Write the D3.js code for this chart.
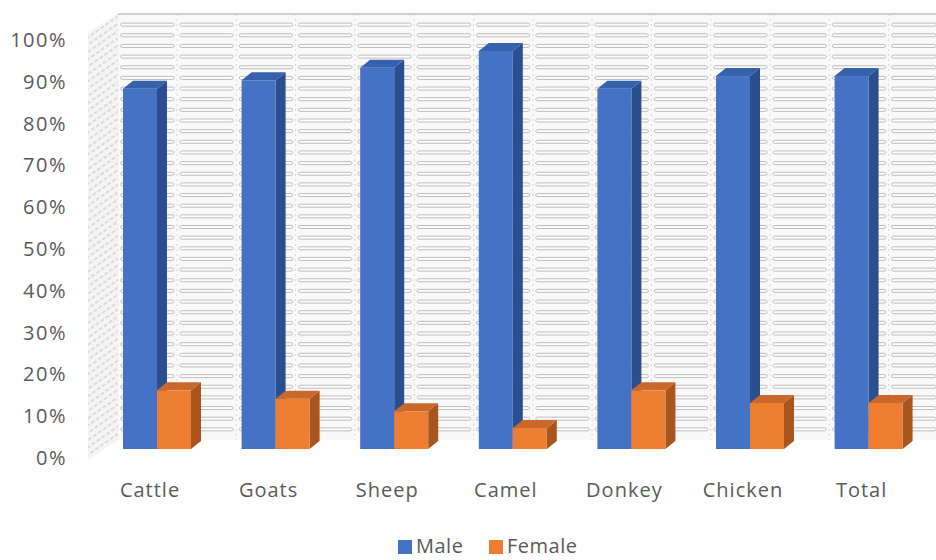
<!DOCTYPE html>
<html>
<head>
<meta charset="utf-8">
<script src="https://cdn.jsdelivr.net/npm/d3@7"></script>
<style>
  html, body { margin: 0; padding: 0; background: #fff; }
  svg { display: block; font-family: "Open Sans", sans-serif; }
</style>
</head>
<body>
<svg id="chart" width="936" height="560"></svg>
<script>
// chart data (shares)
const categories = ["Cattle", "Goats", "Sheep", "Camel", "Donkey", "Chicken", "Total"];
const maleValues = [0.86, 0.88, 0.91, 0.95, 0.86, 0.89, 0.89];
const femaleValues = [0.14, 0.12, 0.09, 0.05, 0.14, 0.11, 0.11];
const seriesNames = ["Male", "Female"];
const yTicks = [0, 0.1, 0.2, 0.3, 0.4, 0.5, 0.6, 0.7, 0.8, 0.9, 1];

const svg = d3.select("#chart");

const x = d3.scaleBand().domain(categories).range([97.7, 927.9]);
const sub = d3.scaleBand().domain(seriesNames).range([25.3, 93.3]);
const yBar = d3.scaleLinear().domain([0, 1]).range([449, 30]);   // front plane
const yWall = d3.scaleLinear().domain([0, 1]).range([440, 14]);  // back wall
const yAxis = d3.scaleLinear().domain([0, 1]).range([458, 40]);  // tick labels

const depthX = 10, depthY = 8;
const wallShift = 20;

// ---- back wall
const wall = svg.append("g");
const wallLeft = x.range()[0] + wallShift;
wall.append("rect")
  .attr("x", wallLeft).attr("y", yWall(1))
  .attr("width", 936 - wallLeft).attr("height", yWall(0) - yWall(1))
  .attr("fill", "#f9f9f9");
wall.append("line")
  .attr("x1", wallLeft).attr("x2", 936)
  .attr("y1", yWall(1)).attr("y2", yWall(1))
  .attr("stroke", "#d0d0d0").attr("stroke-width", 2);

const dividers = [];
for (let k = 0; wallLeft + k * x.bandwidth() / 2 < 940; k++) dividers.push(wallLeft + k * x.bandwidth() / 2);

const gridLevels = d3.range(0.025, 1.0, 0.025);
gridLevels.forEach(v => {
  dividers.forEach(d0 => {
    const x0 = d0 + 3, x1 = Math.min(d0 + x.bandwidth() / 2 - 3, 936);
    if (x1 <= x0) return;
    wall.append("rect")
      .attr("x", x0).attr("y", yWall(v) - 1.5)
      .attr("width", x1 - x0).attr("height", 3)
      .attr("rx", 1.5)
      .attr("fill", "#fdfdfd")
      .attr("stroke", "#bdbdbd").attr("stroke-width", 1);
  });
});
dividers.forEach(d0 => {
  wall.append("line")
    .attr("x1", d0).attr("x2", d0)
    .attr("y1", yWall(1)).attr("y2", yWall(0))
    .attr("stroke", "#d8d8d8").attr("stroke-width", 1).attr("stroke-dasharray", "2,3");
});

// ---- side wall (left), textured strip
const defs = svg.append("defs");
const pat = defs.append("pattern").attr("id", "sideTex")
  .attr("width", 6).attr("height", 6).attr("patternUnits", "userSpaceOnUse")
  .attr("patternTransform", "rotate(-35)");
pat.append("rect").attr("width", 6).attr("height", 6).attr("fill", "#f3f3f3");
pat.append("line").attr("x1", 0).attr("x2", 4).attr("y1", 3).attr("y2", 3)
  .attr("stroke", "#c2c2c2").attr("stroke-width", 1.2);
svg.append("polygon")
  .attr("points", [[88, yWall(1) + 18], [wallLeft, yWall(1)], [wallLeft, yWall(0)], [88, yAxis(0) + 2]].map(p => p.join(",")).join(" "))
  .attr("fill", "url(#sideTex)")
  .attr("opacity", 0.9);

// ---- y axis labels
svg.append("g").selectAll("text")
  .data(yTicks)
  .join("text")
  .attr("x", 67)
  .attr("y", d => yAxis(d))
  .attr("dy", "0.35em")
  .attr("text-anchor", "end")
  .attr("font-size", 20)
  .attr("letter-spacing", 1.5)
  .attr("fill", "#595959")
  .text(d3.format(".0%"));

// ---- 3D bars
const colors = {
  Male: { front: "#4472C4", side: "#2B4F8E", top: "#3561AD" },
  Female: { front: "#ED7D31", side: "#A9561E", top: "#C9682A" }
};

const bars = [];
categories.forEach((c, i) => {
  bars.push({ cat: c, series: "Male", value: maleValues[i] });
  bars.push({ cat: c, series: "Female", value: femaleValues[i] });
});

const pts = arr => arr.map(p => p.join(",")).join(" ");
const barG = svg.append("g").selectAll("g.bar")
  .data(bars)
  .join("g")
  .attr("class", "bar");

barG.each(function(d) {
  const g = d3.select(this);
  const x0 = x(d.cat) + sub(d.series);
  const x1 = x0 + sub.bandwidth();
  const y0 = yBar(d.value);
  const yb = yBar(0);
  const col = colors[d.series];
  g.append("polygon")
    .attr("points", pts([[x1, yb], [x1 + depthX, yb - depthY], [x1 + depthX, y0 - depthY], [x1, y0]]))
    .attr("fill", col.side);
  g.append("polygon")
    .attr("points", pts([[x0, y0], [x0 + depthX, y0 - depthY], [x1 + depthX, y0 - depthY], [x1, y0]]))
    .attr("fill", col.top);
  g.append("rect")
    .attr("x", x0).attr("y", y0)
    .attr("width", sub.bandwidth()).attr("height", yb - y0)
    .attr("fill", col.front);
});

// ---- category labels
svg.append("g").selectAll("text")
  .data(categories)
  .join("text")
  .attr("x", d => x(d) + x.bandwidth() / 2 - 7)
  .attr("y", 490)
  .attr("dy", "0.35em")
  .attr("text-anchor", "middle")
  .attr("font-size", 20)
  .attr("letter-spacing", 1)
  .attr("fill", "#595959")
  .text(d => d);

// ---- legend
const legend = svg.append("g");
const legendItems = [
  { name: "Male", x: 398, color: colors.Male.front },
  { name: "Female", x: 489, color: colors.Female.front }
];
legendItems.forEach(it => {
  legend.append("rect")
    .attr("x", it.x).attr("y", 540)
    .attr("width", 14).attr("height", 14)
    .attr("fill", it.color);
  legend.append("text")
    .attr("x", it.x + 18).attr("y", 546)
    .attr("dy", "0.35em")
    .attr("font-size", 20)
    .attr("letter-spacing", 0.5)
    .attr("fill", "#595959")
    .text(it.name);
});
</script>
</body>
</html>
